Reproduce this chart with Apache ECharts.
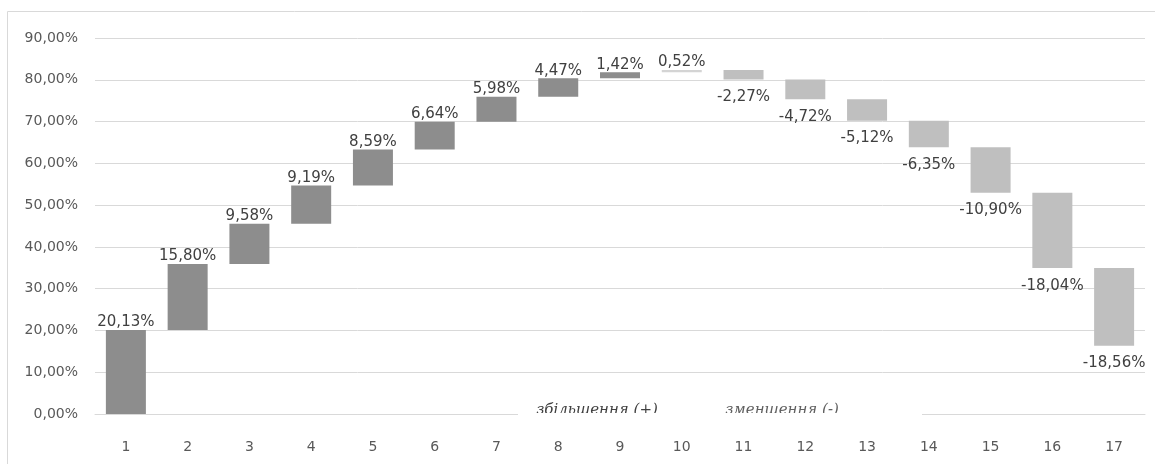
<!DOCTYPE html>
<html><head><meta charset="utf-8">
<script src="https://cdn.jsdelivr.net/npm/echarts@6/dist/echarts.min.js"></script>
<style>html,body{margin:0;padding:0;background:#fff}#c{width:1155px;height:464px}</style>
</head><body><div id="c"></div>
<script>
const categories = ['1','2','3','4','5','6','7','8','9','10','11','12','13','14','15','16','17'];
const changes = [20.13, 15.80, 9.58, 9.19, 8.59, 6.64, 5.98, 4.47, 1.42, 0.52, -2.27, -4.72, -5.12, -6.35, -10.90, -18.04, -18.56];
const yTicks = [0, 10, 20, 30, 40, 50, 60, 70, 80, 90];
const legendLabels = ['збільшення (+)', 'зменшення (-)'];

const fmt = v => v.toFixed(2).replace('.', ',') + '%';
let cum = 0;
const base = [], size = [];
changes.forEach(v => {
  const next = cum + v;
  base.push(Math.min(cum, next));
  size.push(Math.abs(v));
  cum = next;
});
const DARK = '#8d8d8d', LIGHT = '#bfbfbf';
const FONT = '"DejaVu Sans", Verdana, sans-serif';
const chart = echarts.init(document.getElementById('c'), null, {renderer: 'canvas'});
chart.setOption({
  animation: false,
  grid: {left: 95, right: 10, top: 38, bottom: 50},
  xAxis: {
    type: 'category', data: categories,
    axisLine: {show: true, lineStyle: {color: '#d9d9d9', width: 1}},
    axisTick: {show: false},
    axisLabel: {color: '#595959', fontSize: 14, fontFamily: FONT, margin: 26}
  },
  yAxis: {
    type: 'value', min: yTicks[0], max: yTicks[yTicks.length - 1], interval: 10,
    axisLine: {show: false}, axisTick: {show: false},
    splitLine: {lineStyle: {color: '#d9d9d9', width: 1}},
    axisLabel: {color: '#595959', fontSize: 14, fontFamily: FONT, margin: 17,
      formatter: v => v.toFixed(2).replace('.', ',') + '%'}
  },
  series: [
    {type: 'bar', stack: 'w', data: base, barWidth: 40, itemStyle: {color: 'transparent'}, silent: true},
    {type: 'bar', stack: 'w', barWidth: 40,
     data: size.map((s, i) => ({
       value: s,
       itemStyle: {color: changes[i] >= 0 ? (s < 1 ? '#d4d4d4' : DARK) : LIGHT},
       label: changes[i] >= 0
         ? {show: true, position: 'top', distance: 0}
         : {show: true, position: 'bottom', distance: 10}
     })),
     label: {color: '#404040', fontSize: 15, fontFamily: FONT,
       formatter: p => fmt(changes[p.dataIndex])}
    }
  ],
  graphic: [
    {type: 'rect', shape: {x: 7.5, y: 11.5, width: 1200, height: 500}, style: {fill: 'none', stroke: '#d9d9d9', lineWidth: 1}, z: 0},
    {type: 'rect', shape: {x: 518, y: 396, width: 404, height: 26}, style: {fill: '#fff'}, z: 100},
    {type: 'text', x: 597, y: 410, style: {text: legendLabels[0], font: 'italic 15px "DejaVu Serif", "Liberation Serif", serif', fill: '#404040', align: 'center', verticalAlign: 'middle'}, z: 101},
    {type: 'text', x: 782, y: 410, style: {text: legendLabels[1], font: 'italic 15px "DejaVu Serif", "Liberation Serif", serif', fill: '#606060', align: 'center', verticalAlign: 'middle'}, z: 101},
    {type: 'rect', shape: {x: 518, y: 413, width: 404, height: 9}, style: {fill: '#fff'}, z: 102}
  ]
});
</script></body></html>
